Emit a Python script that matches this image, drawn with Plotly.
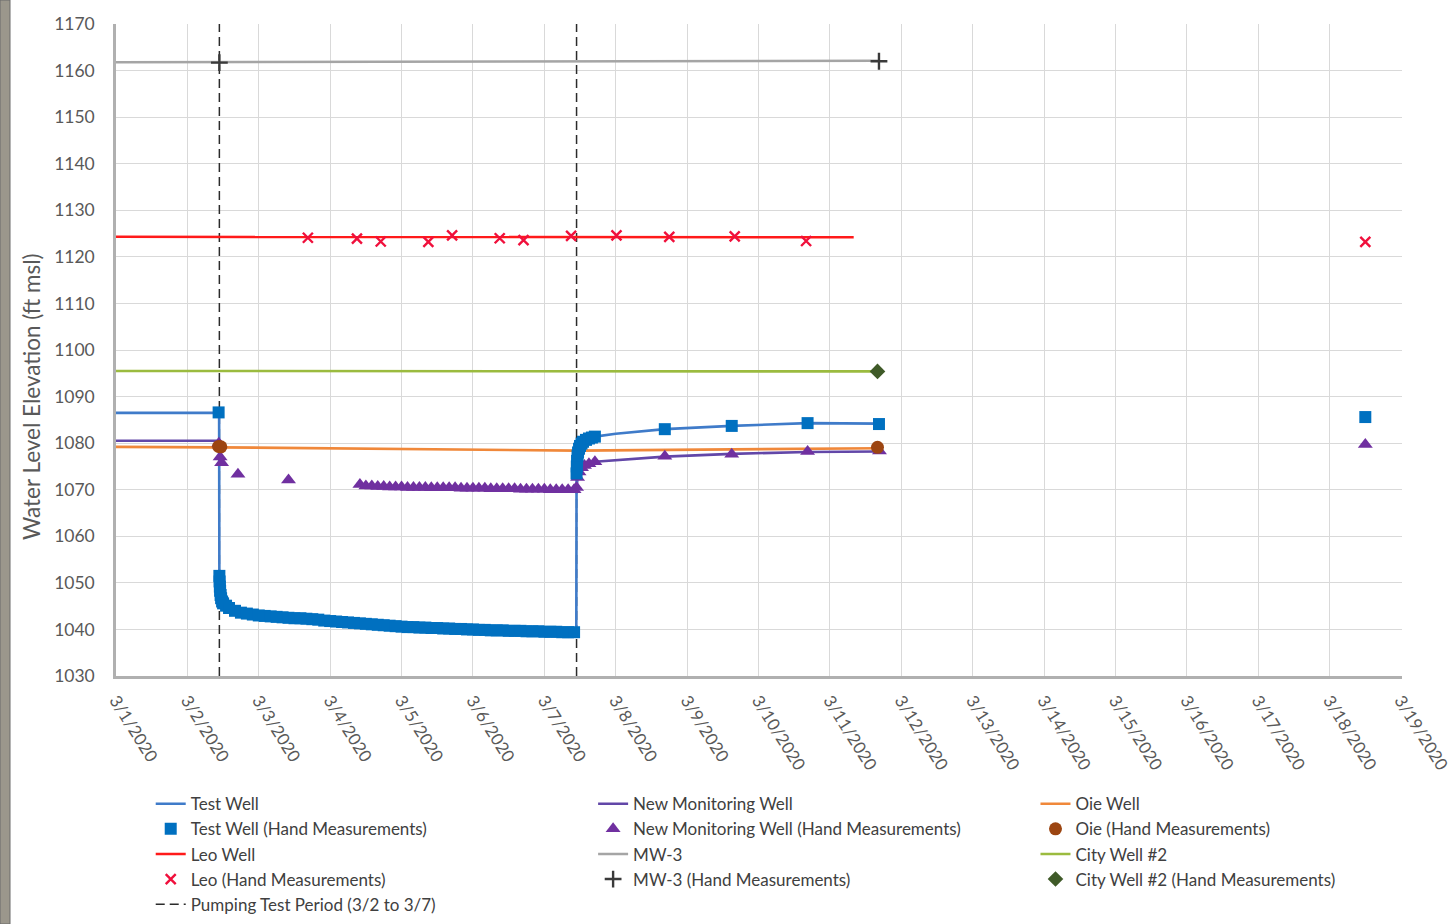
import pandas as pd
import plotly.graph_objects as go

# ---------------- data ----------------
# Test Well transducer record (water level elevation, ft msl)
tw_line_t = ["2020-03-01 00:00", "2020-03-02 10:40", "2020-03-02 10:45", "2020-03-02 11:30",
             "2020-03-02 14:00", "2020-03-03 00:00", "2020-03-04 00:00", "2020-03-05 00:00",
             "2020-03-06 00:00", "2020-03-07 10:45", "2020-03-07 10:50", "2020-03-07 11:10",
             "2020-03-07 12:00", "2020-03-07 14:00", "2020-03-07 17:00", "2020-03-08 00:00",
             "2020-03-08 16:30", "2020-03-09 15:00", "2020-03-10 16:30", "2020-03-11 16:30"]
tw_line_v = [1086.5, 1086.5, 1051.5, 1047.0,
             1044.6, 1043.0, 1041.8, 1040.6,
             1040.0, 1039.4, 1073.5, 1077.5,
             1079.5, 1080.6, 1081.4, 1082.0,
             1083.0, 1083.7, 1084.3, 1084.2]

# Test Well hand measurements
tw_hand_t = ["2020-03-02 10:30", "2020-03-02 10:45", "2020-03-02 10:50", "2020-03-02 10:55",
             "2020-03-02 11:00", "2020-03-02 11:10", "2020-03-02 11:20", "2020-03-02 11:40",
             "2020-03-02 12:00", "2020-03-02 13:00"]
tw_hand_v = [1086.6, 1051.5, 1050.3, 1049.2,
             1048.3, 1047.4, 1046.7, 1046.0,
             1045.6, 1045.1]
# two-hourly readings during pumping, 3/2 14:00 through 3/7 10:00
tw_pump_v = [1044.6, 1044.0, 1043.6, 1043.4, 1043.2,
             1043.0, 1042.9, 1042.8, 1042.7, 1042.6, 1042.5, 1042.4, 1042.4, 1042.3, 1042.2, 1042.1, 1041.9,
             1041.8, 1041.7, 1041.6, 1041.5, 1041.4, 1041.3, 1041.2, 1041.1, 1041.0, 1040.9, 1040.8, 1040.7,
             1040.6, 1040.5, 1040.5, 1040.4, 1040.4, 1040.3, 1040.3, 1040.2, 1040.2, 1040.1, 1040.1, 1040.0,
             1040.0, 1039.9, 1039.9, 1039.8, 1039.8, 1039.8, 1039.7, 1039.7, 1039.7, 1039.6, 1039.6, 1039.6,
             1039.5, 1039.5, 1039.5, 1039.4, 1039.4, 1039.4]
tw_rec_t = ["2020-03-07 10:50", "2020-03-07 10:55", "2020-03-07 11:00", "2020-03-07 11:10",
            "2020-03-07 11:20", "2020-03-07 11:40", "2020-03-07 12:00", "2020-03-07 12:30",
            "2020-03-07 13:00", "2020-03-07 14:00", "2020-03-07 15:00", "2020-03-07 16:00",
            "2020-03-07 17:00", "2020-03-08 16:30", "2020-03-09 15:00", "2020-03-10 16:30",
            "2020-03-11 16:30", "2020-03-18 12:00"]
tw_rec_v = [1073.5, 1075.0, 1076.2, 1077.3,
            1078.0, 1078.8, 1079.4, 1079.9,
            1080.3, 1080.7, 1081.0, 1081.2,
            1081.4, 1083.0, 1083.7, 1084.3,
            1084.1, 1085.6]

# New Monitoring Well transducer record (gap while pumping)
nmw_line_t = ["2020-03-01 00:00", "2020-03-02 10:30", None,
              "2020-03-07 10:50", "2020-03-07 11:10", "2020-03-07 11:40", "2020-03-07 12:30",
              "2020-03-07 14:00", "2020-03-07 17:00", "2020-03-08 16:30", "2020-03-09 15:00",
              "2020-03-10 16:30", "2020-03-11 16:40"]
nmw_line_v = [1080.5, 1080.5, None,
              1070.3, 1072.6, 1073.8, 1074.7,
              1075.4, 1076.0, 1077.1, 1077.7,
              1078.1, 1078.2]

# New Monitoring Well hand measurements
nmw_hand_t = ["2020-03-02 10:35", "2020-03-02 11:00", "2020-03-02 11:30", "2020-03-02 17:00",
              "2020-03-03 10:00", "2020-03-04 10:00"]
nmw_hand_v = [1080.0, 1077.0, 1075.8, 1073.3,
              1072.1, 1071.1]
# two-hourly readings, 3/4 12:00 through 3/7 10:00
nmw_pump_v = [1070.8, 1070.8, 1070.7, 1070.7, 1070.6, 1070.6,
              1070.6, 1070.5, 1070.5, 1070.5, 1070.5, 1070.4, 1070.4, 1070.4, 1070.4, 1070.4, 1070.3, 1070.3,
              1070.3, 1070.3, 1070.3, 1070.2, 1070.2, 1070.2, 1070.2, 1070.2, 1070.1, 1070.1, 1070.1, 1070.1,
              1070.1, 1070.0, 1070.0, 1070.0, 1070.0, 1070.0]
nmw_rec_t = ["2020-03-07 10:50", "2020-03-07 11:10", "2020-03-07 11:40", "2020-03-07 12:30",
             "2020-03-07 13:30", "2020-03-07 15:00", "2020-03-07 17:00", "2020-03-08 16:30",
             "2020-03-09 15:00", "2020-03-10 16:30", "2020-03-11 16:40", "2020-03-18 12:00"]
nmw_rec_v = [1070.5, 1072.6, 1073.8, 1074.7,
             1075.2, 1075.6, 1076.0, 1077.2,
             1077.6, 1078.2, 1078.3, 1079.7]

# Oie Well
oie_line_t = ["2020-03-01 00:00", "2020-03-02 10:40", "2020-03-07 10:50", "2020-03-11 16:30"]
oie_line_v = [1079.2, 1079.1, 1078.4, 1078.9]
oie_hand_t = ["2020-03-02 10:30", "2020-03-02 11:15", "2020-03-11 16:00"]
oie_hand_v = [1079.3, 1079.2, 1079.1]

# Leo Well
leo_line_t = ["2020-03-01 00:00", "2020-03-11 08:00"]
leo_line_v = [1124.3, 1124.2]
leo_hand_t = ["2020-03-03 16:30", "2020-03-04 09:00", "2020-03-04 17:00", "2020-03-05 09:00",
              "2020-03-05 17:00", "2020-03-06 09:00", "2020-03-06 17:00", "2020-03-07 09:00",
              "2020-03-08 00:15", "2020-03-08 18:00", "2020-03-09 16:00", "2020-03-10 16:00",
              "2020-03-18 12:00"]
leo_hand_v = [1124.1, 1123.9, 1123.3, 1123.2,
              1124.6, 1124.0, 1123.6, 1124.5,
              1124.6, 1124.3, 1124.4, 1123.4,
              1123.2]

# MW-3
mw3_line_t = ["2020-03-01 00:00", "2020-03-11 16:30"]
mw3_line_v = [1161.8, 1162.1]
mw3_hand_t = ["2020-03-02 10:45", "2020-03-11 16:30"]
mw3_hand_v = [1161.7, 1162.0]

# City Well #2
city_line_t = ["2020-03-01 00:00", "2020-03-11 16:00"]
city_line_v = [1095.5, 1095.4]
city_hand_t = ["2020-03-11 16:00"]
city_hand_v = [1095.4]

# Pumping test period
pump_start = "2020-03-02 10:45"
pump_end = "2020-03-07 10:50"

y_range = [1030, 1170]
x_range = ["2020-03-01 00:00", "2020-03-19 00:20"]

# ---------------- assemble ----------------
tw_pump_t = [t.strftime("%Y-%m-%d %H:%M") for t in
             pd.date_range("2020-03-02 14:00", "2020-03-07 10:00", freq="2h")]
nmw_pump_t = [t.strftime("%Y-%m-%d %H:%M") for t in
              pd.date_range("2020-03-04 12:00", "2020-03-07 10:00", freq="2h")]

C_TW_LINE = "#3F7BC9"
C_TW_MK = "#0070C0"
C_NMW_LINE = "#6247A8"
C_NMW_MK = "#7030A0"
C_OIE_LINE = "#F0883A"
C_OIE_MK = "#9C4511"
C_LEO_LINE = "#FF1A1A"
C_LEO_MK = "#F0103C"
C_MW3_LINE = "#A5A5A5"
C_MW3_MK = "#3A3A3A"
C_CITY_LINE = "#9BBB3F"
C_CITY_MK = "#3F5A28"

fig = go.Figure()

# pumping test period (dashed verticals)
fig.add_trace(go.Scatter(
    x=[pump_start, pump_start, None, pump_end, pump_end],
    y=[y_range[0], y_range[1], None, y_range[0], y_range[1]],
    mode="lines", line=dict(color="#2b2b2b", width=1.5, dash="9px,5px"),
    name="Pumping Test Period (3/2 to 3/7)", legend="legend", legendrank=5))

# continuous lines
fig.add_trace(go.Scatter(x=mw3_line_t, y=mw3_line_v, mode="lines",
                         line=dict(color=C_MW3_LINE, width=2.6),
                         name="MW-3", legend="legend2", legendrank=3))
fig.add_trace(go.Scatter(x=leo_line_t, y=leo_line_v, mode="lines",
                         line=dict(color=C_LEO_LINE, width=2.5),
                         name="Leo Well", legend="legend", legendrank=3))
fig.add_trace(go.Scatter(x=city_line_t, y=city_line_v, mode="lines",
                         line=dict(color=C_CITY_LINE, width=2.6),
                         name="City Well #2", legend="legend3", legendrank=3))
fig.add_trace(go.Scatter(x=nmw_line_t, y=nmw_line_v, mode="lines", connectgaps=False,
                         line=dict(color=C_NMW_LINE, width=2.6),
                         name="New Monitoring Well", legend="legend2", legendrank=1))
fig.add_trace(go.Scatter(x=oie_line_t, y=oie_line_v, mode="lines",
                         line=dict(color=C_OIE_LINE, width=2.6),
                         name="Oie Well", legend="legend3", legendrank=1))
fig.add_trace(go.Scatter(x=tw_line_t, y=tw_line_v, mode="lines",
                         line=dict(color=C_TW_LINE, width=2.6),
                         name="Test Well", legend="legend", legendrank=1))

# hand measurements
fig.add_trace(go.Scatter(x=leo_hand_t, y=leo_hand_v, mode="markers",
                         marker=dict(symbol="x-thin", size=10, color=C_LEO_MK,
                                     line=dict(color=C_LEO_MK, width=2.4)),
                         name="Leo (Hand Measurements)", legend="legend", legendrank=4))
fig.add_trace(go.Scatter(x=mw3_hand_t, y=mw3_hand_v, mode="markers",
                         marker=dict(symbol="cross-thin", size=12, color=C_MW3_MK,
                                     line=dict(color=C_MW3_MK, width=2.4)),
                         name="MW-3 (Hand Measurements)", legend="legend2", legendrank=4))
fig.add_trace(go.Scatter(x=city_hand_t, y=city_hand_v, mode="markers",
                         marker=dict(symbol="diamond", size=12, color=C_CITY_MK),
                         name="City Well #2 (Hand Measurements)", legend="legend3", legendrank=4))
fig.add_trace(go.Scatter(x=nmw_hand_t + nmw_pump_t + nmw_rec_t,
                         y=nmw_hand_v + nmw_pump_v + nmw_rec_v, mode="markers",
                         marker=dict(symbol="triangle-up", size=13, color=C_NMW_MK),
                         name="New Monitoring Well (Hand Measurements)", legend="legend2", legendrank=2))
fig.add_trace(go.Scatter(x=tw_hand_t + tw_pump_t + tw_rec_t,
                         y=tw_hand_v + tw_pump_v + tw_rec_v, mode="markers",
                         marker=dict(symbol="square", size=12, color=C_TW_MK),
                         name="Test Well (Hand Measurements)", legend="legend", legendrank=2))
fig.add_trace(go.Scatter(x=oie_hand_t, y=oie_hand_v, mode="markers",
                         marker=dict(symbol="circle", size=13, color=C_OIE_MK),
                         name="Oie (Hand Measurements)", legend="legend3", legendrank=2))

LEG_FONT = dict(family="Lato", size=17, color="#404040")
leg_common = dict(orientation="v", yanchor="top", y=-0.169, xanchor="left",
                  bgcolor="rgba(0,0,0,0)", font=LEG_FONT, itemclick=False,
                  tracegroupgap=0, traceorder="normal")

fig.update_layout(
    width=1452, height=924,
    margin=dict(l=116, r=50, t=24, b=248, autoexpand=False),
    paper_bgcolor="white", plot_bgcolor="white",
    font=dict(family="Lato", color="#595959"),
    legend=dict(x=0.027, **leg_common),
    legend2=dict(x=0.371, **leg_common),
    legend3=dict(x=0.715, **leg_common),
    xaxis=dict(
        type="date", range=x_range, dtick=86400000, tick0="2020-03-01",
        tickformat="%-m/%-d/%Y", tickangle=58, ticks="",
        tickfont=dict(family="Lato", size=17, color="#595959"),
        showgrid=True, gridcolor="#D9D9D9", gridwidth=1,
        showline=True, linecolor="#B0B0B0", linewidth=2.5,
        zeroline=False, automargin=False, ticklabelstandoff=5,
        ticklabeloverflow="allow",
    ),
    yaxis=dict(
        range=y_range, dtick=10, tick0=1030, ticks="",
        tickfont=dict(family="Lato", size=17.5, color="#595959"),
        showgrid=True, gridcolor="#D9D9D9", gridwidth=1,
        showline=True, linecolor="#B0B0B0", linewidth=2.5,
        zeroline=False, automargin=False, ticklabelstandoff=15,
    ),
    annotations=[dict(
        text="Water Level Elevation (ft msl)", textangle=-90,
        xref="paper", yref="paper", x=-84 / 1286, y=(676 - 397) / 652,
        xanchor="center", yanchor="middle", showarrow=False,
        font=dict(family="Lato", size=22.5, color="#595959"),
    )],
    showlegend=True,
)

# framing strip along the left edge of the page
fig.add_shape(type="rect", xref="paper", yref="paper",
              x0=-116 / 1286, x1=-106 / 1286, y0=-248 / 652, y1=1 + 24 / 652,
              fillcolor="#9b978c", line=dict(color="#6a6a6a", width=1), layer="below")

fig.write_html("out.html")
